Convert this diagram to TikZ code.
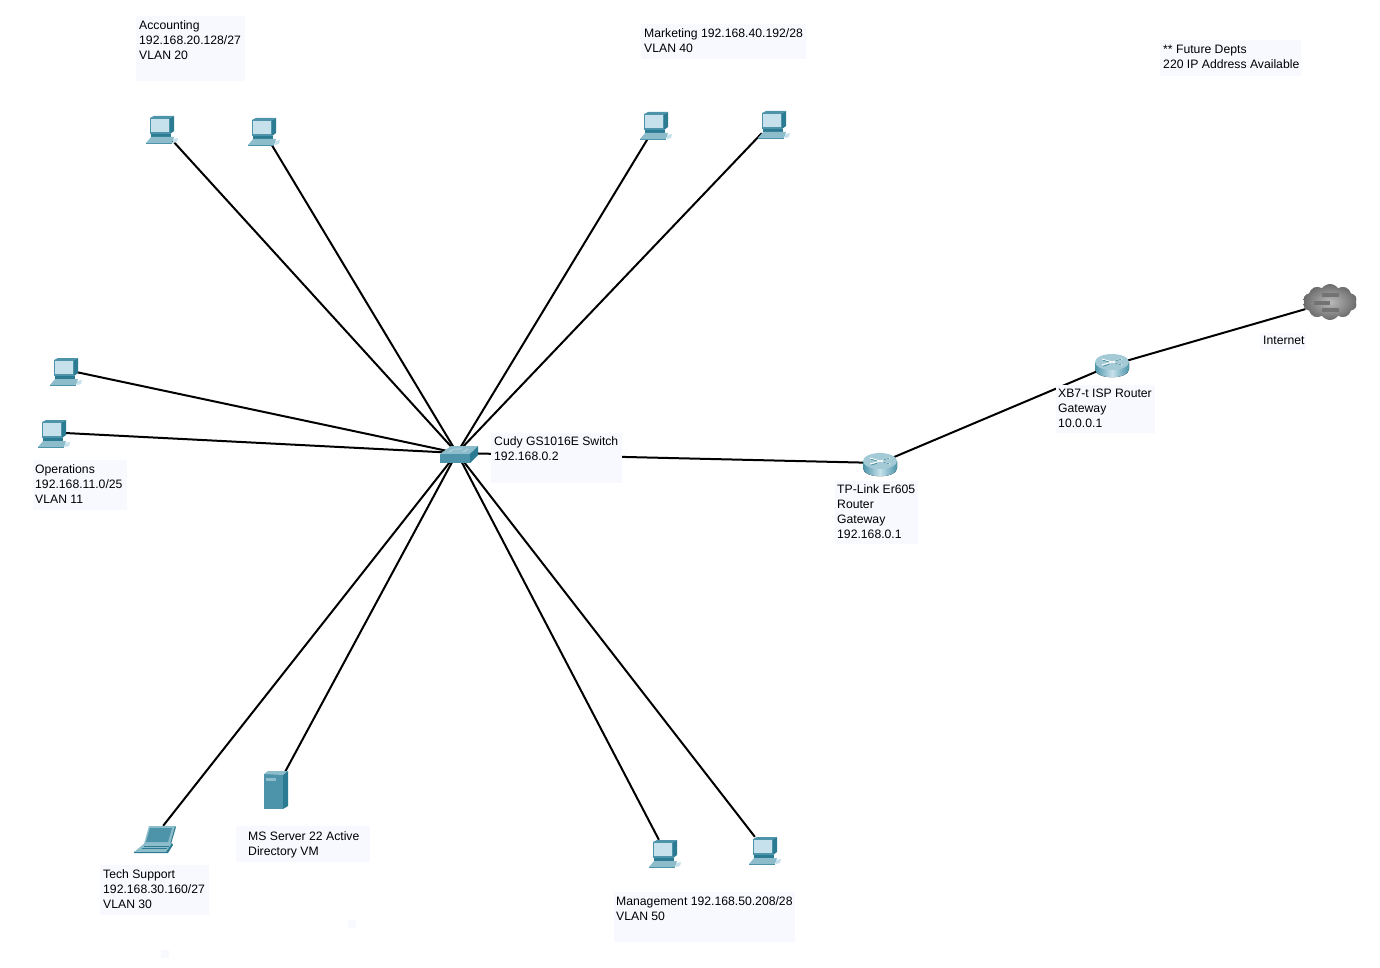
\documentclass[tikz,border=0pt]{standalone}
\usepackage{fontspec}
\setmainfont{Liberation Sans}
\usetikzlibrary{shapes.symbols}
\definecolor{notefill}{HTML}{F8F9FF}
\definecolor{tealdark}{HTML}{2B7B92}
\definecolor{tealmid}{HTML}{4D94AA}
\definecolor{teallight}{HTML}{8DBDCB}
\definecolor{screenblue}{HTML}{C6E1EB}
\tikzset{
  port/.style={inner sep=0pt,minimum size=0pt},
  link/.style={line width=2pt,black},
  notebg/.style={fill=notefill,inner sep=0pt,anchor=north west},
  notetext/.style={inner sep=0pt,anchor=north west,align=left,yshift=.7pt,font=\fontsize{12.2}{15}\selectfont},
  pics/pcicon/.style={code={
    \fill[tealdark] (20,2)--(24,0)--(24,15)--(20,18)--cycle;
    \fill[tealmid] (0,2)--(4,0)--(24,0)--(20,2)--cycle;
    \fill[tealmid] (0,2) rectangle (20,18);
    \fill[screenblue] (1,3) rectangle (19,16);
    \fill[tealdark] (1,18) rectangle (21,21);
    \fill[teallight] (-4,27)--(1,21)--(24,21)--(22,27)--cycle;
    \fill[tealmid] (-4,27) rectangle (22,28);
    \fill[screenblue] (23,23)--(28,22)--(27,26)--(23,27)--cycle;
  }},
  pics/routericon/.style={code={
    \fill[left color=tealmid,right color=tealmid,middle color=screenblue]
      (-17,-3)--(-17,4) .. controls (-17,15) and (17,15) .. (17,4)--(17,-3)--cycle;
    \fill[teallight!80!white] (0,-3) ellipse (17 and 8);
    \draw[white,line width=.9pt] (-10,-6)--(10,0) (-10,0)--(10,-6);
    \draw[tealdark,line width=.5pt] (-9,-4.8)--(-3,-3) (3,-3.9)--(9,-5.7) (-9,1.2)--(-3,-.6) (3,-2)--(9,-.2);
  }},
  pics/switchicon/.style={code={
    \fill[teallight] (-17,1)--(-6,-7)--(21,-7)--(13,1)--cycle;
    \fill[tealmid] (-17,1) rectangle (13,10);
    \fill[tealdark] (13,1)--(21,-7)--(21,2)--(13,10)--cycle;
    \draw[screenblue,line width=.6pt] (-8,-1)--(-3,-4) (6,-1)--(11,-4) (-2,-4)--(5,-4);
  }},
  pics/servericon/.style={code={
    \fill[tealmid] (0,3) rectangle (19,38);
    \fill[teallight] (0,3)--(4,0)--(24,0)--(19,4)--cycle;
    \fill[tealdark] (19,4)--(24,0)--(24,35)--(19,38)--cycle;
    \fill[teallight] (2,7) rectangle (12,10);
  }},
  pics/laptopicon/.style={code={
    \fill[teallight] (15,1)--(41,1)--(36,19)--(10,19)--cycle;
    \fill[tealmid] (16,3)--(38,3)--(34,17)--(12,17)--cycle;
    \fill[tealdark] (41,1)--(42,2)--(37,19)--(36,19)--cycle;
    \fill[teallight] (11,18)--(38,18)--(32,27)--(0,27)--cycle;
    \fill[tealdark] (32,27)--(38,18)--(39,20)--(34,28)--(0,28)--(0,27)--cycle;
    \draw[tealdark,line width=.6pt] (10,21)--(35,21) (8,23)--(33,23);
  }},
}
\begin{document}
\begin{tikzpicture}[x=1pt,y=-1pt]
      \useasboundingbox (0,0) rectangle (1380,968);
      %%%%%%%%%%%%%%%%%%%%%%%%%%%%%%%%%%%%%%%
      \draw (457,453) node (hub) [port] {};
      \draw (172,140) node (pc1) [port] {};
      \draw (270,142) node (pc2) [port] {};
      \draw (650,135) node (pc3) [port] {};
      \draw (762,133) node (pc4) [port] {};
      \draw (76,372) node (pc5) [port] {};
      \draw (65,433) node (pc6) [port] {};
      \draw (659,840) node (pc7) [port] {};
      \draw (755,837) node (pc8) [port] {};
      \draw (163,826) node (lap) [port] {};
      \draw (285,772) node (srv) [port] {};
      \draw (880,463) node (rt1) [port] {};
      \draw (1112,365) node (rt2) [port] {};
      \node (inet) at (1330,302) [cloud,cloud puffs=10,cloud puff arc=110,aspect=1.6,minimum width=54,minimum height=36,inner sep=0pt,inner color=black!27,outer color=black!58] {};
      \draw[link] (pc1)--(hub);
      \draw[link] (pc2)--(hub);
      \draw[link] (pc3)--(hub);
      \draw[link] (pc4)--(hub);
      \draw[link] (pc5)--(hub);
      \draw[link] (pc6)--(hub);
      \draw[link] (pc7)--(hub);
      \draw[link] (pc8)--(hub);
      \draw[link] (lap)--(hub);
      \draw[link] (srv)--(hub);
      \draw[link] (hub)--(rt1);
      \draw[link] (rt1)--(rt2);
      \draw[link] (rt2)--(inet);
      %icons
      \pic at (150,116) {pcicon};
      \pic at (252,118) {pcicon};
      \pic at (644,112) {pcicon};
      \pic at (762,111) {pcicon};
      \pic at (54,358) {pcicon};
      \pic at (42,420) {pcicon};
      \pic at (653,840) {pcicon};
      \pic at (753,837) {pcicon};
      \pic at (134,825) {laptopicon};
      \pic at (264,771) {servericon};
      \pic at (457,453) {switchicon};
      \pic at (880,464) {routericon};
      \pic at (1112,365) {routericon};
      \fill[black!55] (1322,293) rectangle (1339,297);
      \fill[black!55] (1314,301) rectangle (1330,305);
      \fill[black!55] (1322,308) rectangle (1339,312);
      %notes
      \node (accbg) at (136,16) [notebg,minimum width=109,minimum height=65] {};
      \node (mktbg) at (641,24) [notebg,minimum width=165,minimum height=35] {};
      \node (futbg) at (1160,40) [notebg,minimum width=141,minimum height=36] {};
      \node (cudbg) at (491,433) [notebg,minimum width=131,minimum height=50] {};
      \node (opsbg) at (33,460) [notebg,minimum width=94,minimum height=50] {};
      \node (tecbg) at (100,865) [notebg,minimum width=109,minimum height=50] {};
      \node (msvbg) at (236,826) [notebg,minimum width=134,minimum height=36] {};
      \node (mgtbg) at (614,892) [notebg,minimum width=181,minimum height=50] {};
      \node (tplbg) at (835,481) [notebg,minimum width=83,minimum height=63] {};
      \node (xb7bg) at (1056,385) [notebg,minimum width=99,minimum height=48] {};
      \node (netbg) at (1260,333) [notebg,minimum width=46,minimum height=17] {};
      \node (speck1) at (348,920) [notebg,minimum width=8,minimum height=8] {};
      \node (speck2) at (161,950) [notebg,minimum width=8,minimum height=8] {};
      \node (acctx) at (139,21) [notetext] {Accounting\\192.168.20.128/27\\VLAN 20};
      \node (mkttx) at (644,29) [notetext] {Marketing 192.168.40.192/28\\VLAN 40};
      \node (futtx) at (1163,46) [notetext] {** Future Depts\\220 IP Address Available};
      \node (cudtx) at (494,437) [notetext] {Cudy GS1016E Switch\\192.168.0.2};
      \node (opstx) at (35,465) [notetext] {Operations\\192.168.11.0/25\\VLAN 11};
      \node (tectx) at (103,870) [notetext] {Tech Support\\192.168.30.160/27\\VLAN 30};
      \node (msvtx) at (248,832) [notetext] {MS Server 22 Active\\Directory VM};
      \node (mgttx) at (616,897) [notetext] {Management 192.168.50.208/28\\VLAN 50};
      \node (tpltx) at (837,485) [notetext] {TP-Link Er605\\Router\\Gateway\\192.168.0.1};
      \node (xb7tx) at (1058,389) [notetext] {XB7-t ISP Router\\Gateway\\10.0.0.1};
      \node (nettx) at (1263,337) [notetext] {Internet};
\end{tikzpicture}
\end{document}
